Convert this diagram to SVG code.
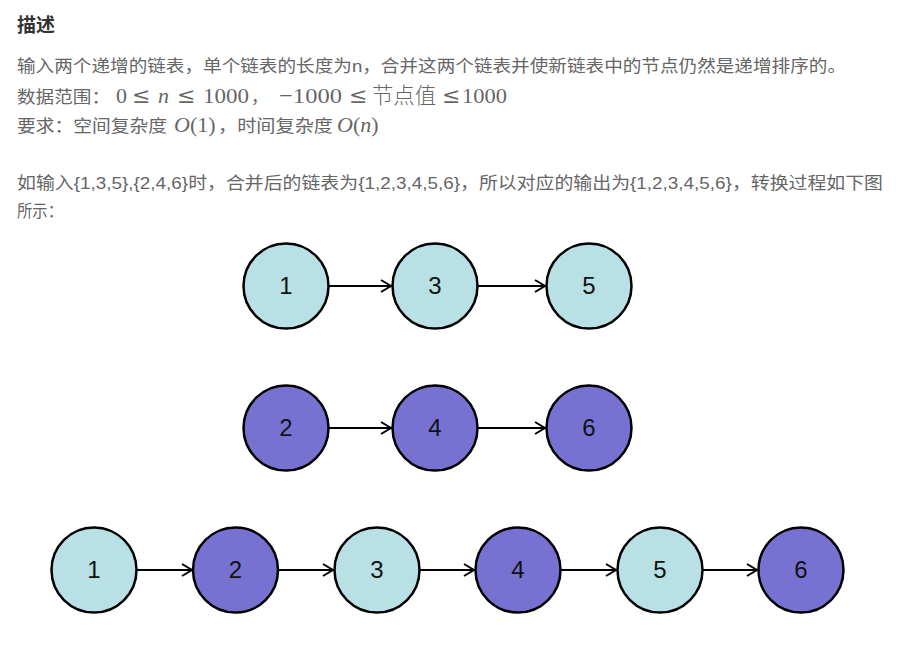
<svg xmlns="http://www.w3.org/2000/svg" width="901" height="653" viewBox="0 0 901 653">
<style>
.h{font-family:"Noto Sans CJK SC","Liberation Sans",sans-serif;font-size:19px;font-weight:bold;fill:#333}
.t{font-family:"Liberation Sans","Noto Sans CJK SC",sans-serif;font-size:17px;fill:#666}
.m{font-family:"Liberation Serif","DejaVu Serif","Noto Sans CJK SC",serif;font-size:22px;fill:#666}
.le{font-family:"DejaVu Serif",serif;font-size:22px;fill:#666}
.mi{font-style:italic}
.a{fill:#b9e0e4;stroke:#000;stroke-width:2.5}
.b{fill:#7772d2;stroke:#000;stroke-width:2.5}
.l{font-family:"Liberation Sans",Arial,sans-serif;font-size:24px;fill:#111;text-anchor:middle}
.c{stroke:#000;stroke-width:2;fill:none;marker-end:url(#ar)}
</style>
<defs>
<marker id="ar" markerWidth="14" markerHeight="14" refX="11" refY="7" orient="auto" markerUnits="userSpaceOnUse">
<path d="M1,1 L11,7 L1,13" fill="none" stroke="#000" stroke-width="2"/>
</marker>
</defs>
<rect width="901" height="653" fill="#fff"/>
<g id="text">
<text class="h" x="17" y="32">描述</text>
<text class="t" x="17" y="72" textLength="829" lengthAdjust="spacingAndGlyphs">输入两个递增的链表，单个链表的长度为n，合并这两个链表并使新链表中的节点仍然是递增排序的。</text>
<text class="t" x="17" y="103" textLength="93" lengthAdjust="spacingAndGlyphs">数据范围：</text>
<text class="m" x="116" y="103">0</text>
<text class="le" x="132" y="103">≤</text>
<text class="m mi" x="158" y="103">n</text>
<text class="le" x="177" y="103">≤</text>
<text class="m" x="203" y="103" textLength="46" lengthAdjust="spacingAndGlyphs">1000</text>
<text class="t" x="251" y="103">，</text>
<text class="m" x="279" y="103" textLength="63" lengthAdjust="spacingAndGlyphs">−1000</text>
<text class="le" x="349" y="103">≤</text>
<text class="m" x="372" y="103" textLength="64" lengthAdjust="spacingAndGlyphs" style="font-weight:300">节点值</text>
<text class="le" x="442" y="103">≤</text>
<text class="m" x="462" y="103" textLength="45" lengthAdjust="spacingAndGlyphs">1000</text>
<text class="t" x="17" y="132" textLength="150" lengthAdjust="spacingAndGlyphs">要求：空间复杂度</text>
<text class="m" x="174" y="132"><tspan class="mi">O</tspan>(1)</text>
<text class="t" x="218" y="132" textLength="115" lengthAdjust="spacingAndGlyphs">，时间复杂度</text>
<text class="m" x="337" y="132"><tspan class="mi">O</tspan>(<tspan class="mi">n</tspan>)</text>
<text class="t" x="17" y="189" textLength="866" lengthAdjust="spacingAndGlyphs">如输入{1,3,5},{2,4,6}时，合并后的链表为{1,2,3,4,5,6}，所以对应的输出为{1,2,3,4,5,6}，转换过程如下图</text>
<text class="t" x="17" y="217" textLength="46" lengthAdjust="spacingAndGlyphs">所示：</text>
</g>
<g id="connectors">
<line class="c" x1="329" y1="286" x2="391" y2="286"/>
<line class="c" x1="478" y1="286" x2="545" y2="286"/>
<line class="c" x1="329" y1="428" x2="391" y2="428"/>
<line class="c" x1="478" y1="428" x2="545" y2="428"/>
<line class="c" x1="137" y1="570" x2="192" y2="570"/>
<line class="c" x1="278" y1="570" x2="333" y2="570"/>
<line class="c" x1="420" y1="570" x2="474" y2="570"/>
<line class="c" x1="561" y1="570" x2="616" y2="570"/>
<line class="c" x1="703" y1="570" x2="757" y2="570"/>
</g>
<g id="r1n1"><circle class="a" cx="286" cy="286" r="42.5"/><text class="l" x="286" y="294">1</text></g>
<g id="r1n3"><circle class="a" cx="435" cy="286" r="42.5"/><text class="l" x="435" y="294">3</text></g>
<g id="r1n5"><circle class="a" cx="589" cy="286" r="42.5"/><text class="l" x="589" y="294">5</text></g>
<g id="r2n2"><circle class="b" cx="286" cy="428" r="42.5"/><text class="l" x="286" y="436">2</text></g>
<g id="r2n4"><circle class="b" cx="435" cy="428" r="42.5"/><text class="l" x="435" y="436">4</text></g>
<g id="r2n6"><circle class="b" cx="589" cy="428" r="42.5"/><text class="l" x="589" y="436">6</text></g>
<g id="r3n1"><circle class="a" cx="94" cy="570" r="42.5"/><text class="l" x="94" y="578">1</text></g>
<g id="r3n2"><circle class="b" cx="235.5" cy="570" r="42.5"/><text class="l" x="235.5" y="578">2</text></g>
<g id="r3n3"><circle class="a" cx="377" cy="570" r="42.5"/><text class="l" x="377" y="578">3</text></g>
<g id="r3n4"><circle class="b" cx="518" cy="570" r="42.5"/><text class="l" x="518" y="578">4</text></g>
<g id="r3n5"><circle class="a" cx="660" cy="570" r="42.5"/><text class="l" x="660" y="578">5</text></g>
<g id="r3n6"><circle class="b" cx="801" cy="570" r="42.5"/><text class="l" x="801" y="578">6</text></g>
</svg>
